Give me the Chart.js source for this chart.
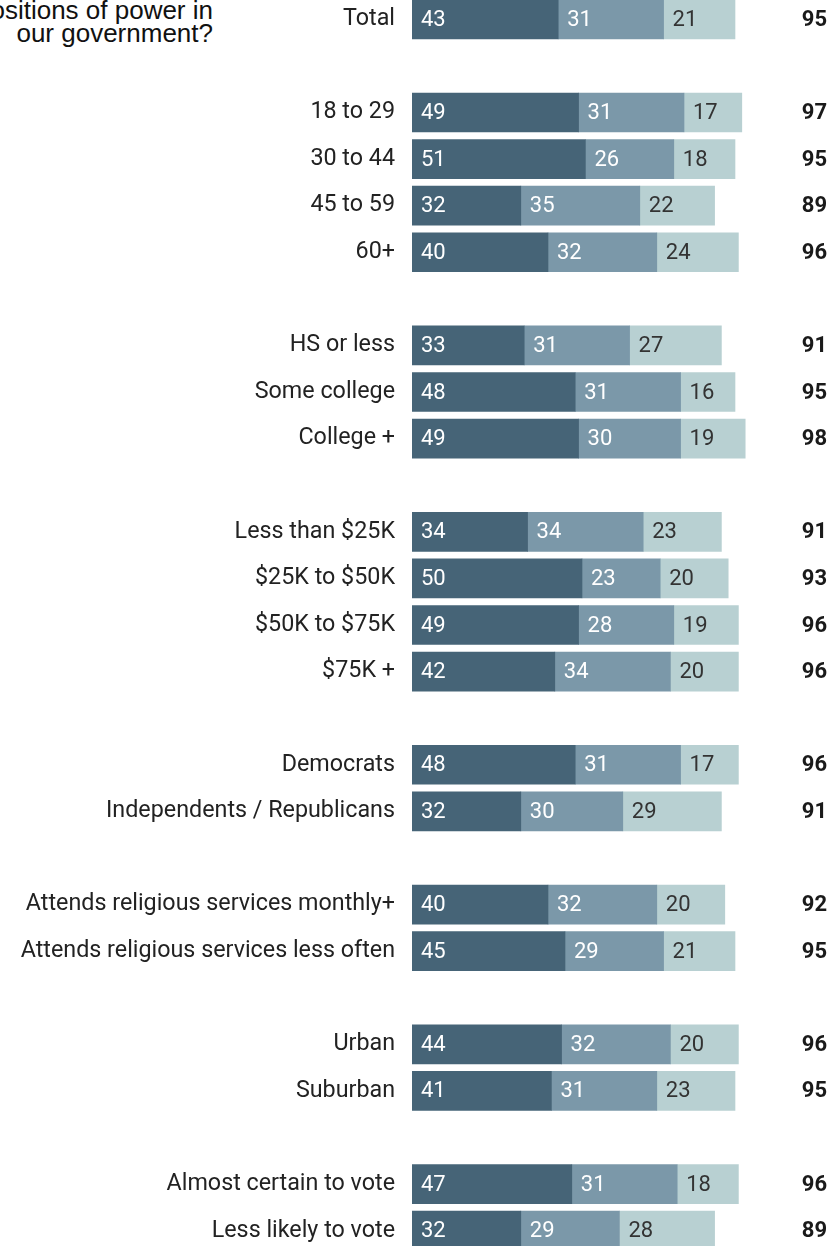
<!DOCTYPE html>
<html>
<head>
<meta charset="utf-8">
<script src="https://cdn.jsdelivr.net/npm/chart.js@4.4.1/dist/chart.umd.min.js"></script>
<style>
  html, body { margin: 0; padding: 0; background: #fff; overflow: hidden; }
  body { width: 840px; height: 1246px; position: relative; }
  #question {
    position: absolute; top: -1px; right: 627px;
    font-family: "Liberation Sans", Arial, sans-serif; font-size: 26px; line-height: 23px;
    color: #111; text-align: right; white-space: nowrap;
  }
  #wrap { position: absolute; left: 0; top: -4px; width: 840px; height: 1258px; }
</style>
</head>
<body>
<div id="question">positions of power in<br>our government?</div>
<div id="wrap"><canvas id="chart" width="840" height="1258"></canvas></div>
<script>
// blank strings are the spacer rows between groups
var categories = ['Total', '', '18 to 29', '30 to 44', '45 to 59', '60+', '',
  'HS or less', 'Some college', 'College +', '',
  'Less than $25K', '$25K to $50K', '$50K to $75K', '$75K +', '',
  'Democrats', 'Independents / Republicans', '',
  'Attends religious services monthly+', 'Attends religious services less often', '',
  'Urban', 'Suburban', '',
  'Almost certain to vote', 'Less likely to vote'];
var first  = [43, null, 49, 51, 32, 40, null, 33, 48, 49, null, 34, 50, 49, 42, null, 48, 32, null, 40, 45, null, 44, 41, null, 47, 32];
var second = [31, null, 31, 26, 35, 32, null, 31, 31, 30, null, 34, 23, 28, 34, null, 31, 30, null, 32, 29, null, 32, 31, null, 31, 29];
var third  = [21, null, 17, 18, 22, 24, null, 27, 16, 19, null, 23, 20, 19, 20, null, 17, 29, null, 20, 21, null, 20, 23, null, 18, 28];
var totals = [95, null, 97, 95, 89, 96, null, 91, 95, 98, null, 91, 93, 96, 96, null, 96, 91, null, 92, 95, null, 96, 95, null, 96, 89];

var colors = ['#466477', '#7b98a9', '#b8d0d2'];
var labelColors = ['#ffffff', '#ffffff', '#333333'];

var barLabels = {
  id: 'barLabels',
  afterDatasetsDraw: function (chart) {
    var ctx = chart.ctx;
    ctx.save();
    ctx.font = '22px Roboto';
    ctx.textBaseline = 'middle';
    ctx.textAlign = 'left';
    chart.data.datasets.forEach(function (ds, di) {
      chart.getDatasetMeta(di).data.forEach(function (bar, i) {
        if (ds.data[i] == null) return;
        ctx.fillStyle = labelColors[di];
        ctx.fillText(ds.data[i], bar.base + 9, bar.y + 1);
      });
    });
    ctx.font = 'bold 22px Roboto';
    ctx.textAlign = 'right';
    ctx.fillStyle = '#1a1a1a';
    var yScale = chart.scales.y;
    totals.forEach(function (t, i) {
      if (t == null) return;
      ctx.fillText(t, 827, yScale.getPixelForValue(i) + 1);
    });
    ctx.restore();
  }
};

new Chart(document.getElementById('chart'), {
  type: 'bar',
  data: {
    labels: categories,
    datasets: [
      { label: 'first', data: first, backgroundColor: colors[0] },
      { label: 'second', data: second, backgroundColor: colors[1] },
      { label: 'third', data: third, backgroundColor: colors[2] }
    ]
  },
  options: {
    indexAxis: 'y',
    responsive: false,
    animation: false,
    devicePixelRatio: 1,
    barThickness: 39,
    layout: { padding: { left: 0, right: 88, top: 0, bottom: 0 } },
    plugins: { legend: { display: false }, tooltip: { enabled: false } },
    scales: {
      x: { stacked: true, min: 0, max: 100, display: false },
      y: {
        stacked: true,
        grid: { display: false, drawTicks: false },
        border: { display: false },
        ticks: { autoSkip: false, padding: 17, color: '#222', font: { family: 'Roboto', size: 23.3 } },
        afterFit: function (scale) {
          scale.width = 412;
          // no extra room above/below for the first and last label
          scale.paddingTop = 0;
          scale.paddingBottom = 0;
        }
      }
    }
  },
  plugins: [barLabels]
});
</script>
</body>
</html>
